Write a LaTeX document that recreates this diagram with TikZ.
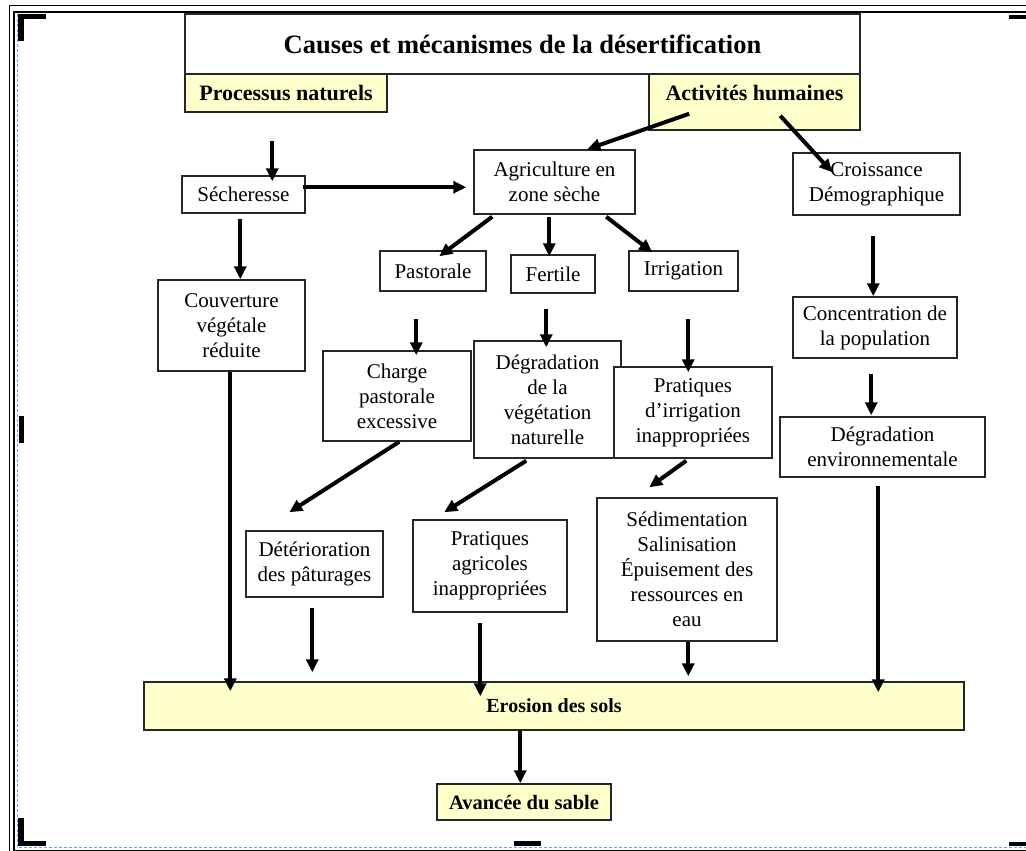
\documentclass[tikz,border=0pt]{standalone}
\usepackage{fontspec}
\setmainfont{Liberation Serif}
\usetikzlibrary{arrows.meta,calc}
\definecolor{yellowbg}{HTML}{FFFFCC}
\definecolor{dashblue}{HTML}{6F9FE0}
\begin{document}
\begin{tikzpicture}[x=1pt,y=-1pt,
  box/.style={draw=black!85, line width=1.5pt, fill=white, inner sep=0pt, align=center,
    font=\fontsize{21}{25}\selectfont},
  ybox/.style={box, fill=yellowbg},
  hdr/.style={font=\fontsize{22}{26}\selectfont\bfseries},
  arr/.style={line width=4pt, -{Triangle[length=13pt,width=12pt]}},
  cropmark/.style={fill=black}
  ]
\useasboundingbox (0,0) rectangle (1026,851);
% page frame
\draw[line width=1.4pt] (9.5,851) -- (9.5,5.5) -- (1026,5.5);
\draw[line width=1.8pt] (14,851) -- (14,12) -- (1026,12);
\draw[line width=1.5pt] (14,850.3) -- (1026,850.3);
\draw[dashblue, line width=0.9pt, dash pattern=on 3pt off 2pt] (17.5,14) -- (17.5,847.5) -- (1026,847.5);
% crop marks
\fill[cropmark] (18,14) rectangle (46,19);
\fill[cropmark] (18,14) rectangle (23.5,41.5);
\fill[cropmark] (18,818) rectangle (23.5,846);
\fill[cropmark] (18,841) rectangle (46,846);
\fill[cropmark] (1009,15) rectangle (1026,19.5);
\fill[cropmark] (1009,841.5) rectangle (1026,846);
\fill[cropmark] (19,416) rectangle (24,443);
\fill[cropmark] (514,841) rectangle (541,845.5);

% header
\node[box, minimum width=675pt, minimum height=60pt, font=\fontsize{26.5}{30}\selectfont\bfseries] (title) at (522.5,44) {Causes et mécanismes de la désertification};
\node[ybox, hdr, minimum width=202pt, minimum height=38pt] (proc) at (286,93) {Processus naturels};
\node[ybox, minimum width=211pt, minimum height=56pt] (act) at (754.5,102) {};
\node[hdr] (acttxt) at ($(act.north)+(0,20)$) {Activités humaines};

% boxes
\node[box, minimum width=123pt, minimum height=37pt] (sech) at (243.5,194.5) {Sécheresse};
\node[box, minimum width=161pt, minimum height=64pt] (agri) at (554.5,182) {Agriculture en\\zone sèche};
\node[box, minimum width=167pt, minimum height=62pt] (croi) at (876.5,184) {Croissance\\Démographique};
\node[box, minimum width=106pt, minimum height=40pt] (past) at (433,271) {Pastorale};
\node[box, minimum width=84pt, minimum height=38pt] (fert) at (553,274) {Fertile};
\node[box, minimum width=109pt, minimum height=40pt] (irri) at (683.5,271) {Irrigation};
\node[box, minimum width=147pt, minimum height=91pt] (couv) at (231.5,325.5) {Couverture\\végétale\\réduite};
\node[box, minimum width=164pt, minimum height=61pt] (conc) at (875,327.5) {Concentration de\\la population};
\node[box, minimum width=148pt, minimum height=90pt] (charge) at (397,396) {Charge\\pastorale\\excessive};
\node[box, minimum width=147pt, minimum height=117pt] (degv) at (547.5,399.5) {Dégradation\\de la\\végétation\\naturelle};
\node[box, minimum width=158pt, minimum height=91pt] (prirr) at (693,412.5) {Pratiques\\d’irrigation\\inappropriées};
\node[box, minimum width=205pt, minimum height=60pt] (degenv) at (882.5,447) {Dégradation\\environnementale};
\node[box, minimum width=137pt, minimum height=66pt] (deter) at (314.5,564) {Détérioration\\des pâturages};
\node[box, minimum width=154pt, minimum height=92pt] (pragr) at (490,566) {Pratiques\\agricoles\\inappropriées};
\node[box, minimum width=180pt, minimum height=143pt] (sedim) at (687,569.5) {Sédimentation\\Salinisation\\Épuisement des\\ressources en\\eau};
\node[ybox, minimum width=820pt, minimum height=48pt, font=\fontsize{20}{24}\selectfont\bfseries] (eros) at (554,706) {Erosion des sols};
\node[ybox, minimum width=174pt, minimum height=36pt, font=\fontsize{20.5}{24}\selectfont\bfseries] (avanc) at (524,802) {Avancée du sable};

% connectors
\draw[arr] ($(act.south west)+(41,-17)$) -- ($(agri.north west)+(114,0)$);
\draw[arr] ($(act.south west)+(132,-15)$) -- ($(croi.north west)+(40,20)$);
\draw[arr] ($(proc.south west)+(88,28)$) -- ($(sech.north west)+(91,6)$);
\draw[arr] ($(sech.north east)+(-3,12)$) -- ($(agri.north west)+(-7,38)$);
\draw[arr] ($(sech.south west)+(59,5)$) -- ($(couv.north west)+(83,0)$);
\draw[arr] ($(agri.south west)+(19,2)$) -- ($(past.north west)+(60,6)$);
\draw[arr] ($(agri.south west)+(76,2)$) -- ($(fert.north west)+(39,2)$);
\draw[arr] ($(agri.south west)+(133,2)$) -- ($(irri.north west)+(24,2)$);
\draw[arr] ($(past.south west)+(37,27)$) -- ($(charge.north west)+(94,5)$);
\draw[arr] ($(fert.south west)+(36,15)$) -- ($(degv.north west)+(73,7)$);
\draw[arr] ($(irri.south west)+(60,27)$) -- ($(prirr.north west)+(75,6)$);
\draw[arr] ($(croi.south west)+(81,20)$) -- ($(conc.north west)+(81,0)$);
\draw[arr] ($(conc.south west)+(79,15)$) -- ($(degenv.north west)+(92,-1)$);
\draw[arr] ($(couv.south west)+(73,0)$) -- ($(eros.north west)+(87,10)$);
\draw[arr] ($(charge.south west)+(77,0)$) -- ($(deter.north west)+(44,-18)$);
\draw[arr] ($(degv.south west)+(53,2)$) -- ($(pragr.north west)+(32,-7)$);
\draw[arr] ($(prirr.south west)+(73,2)$) -- ($(sedim.north west)+(53,-10)$);
\draw[arr] ($(deter.south west)+(67,10)$) -- ($(eros.north west)+(169,-9)$);
\draw[arr] ($(pragr.south west)+(68,10)$) -- ($(eros.north west)+(337,15)$);
\draw[arr] ($(sedim.south west)+(92,0)$) -- ($(eros.north west)+(545,-5)$);
\draw[arr] ($(degenv.south west)+(99,8)$) -- ($(eros.north west)+(735,11)$);
\draw[arr] ($(eros.south west)+(377,0)$) -- ($(avanc.north west)+(84,0)$);
\end{tikzpicture}
\end{document}
